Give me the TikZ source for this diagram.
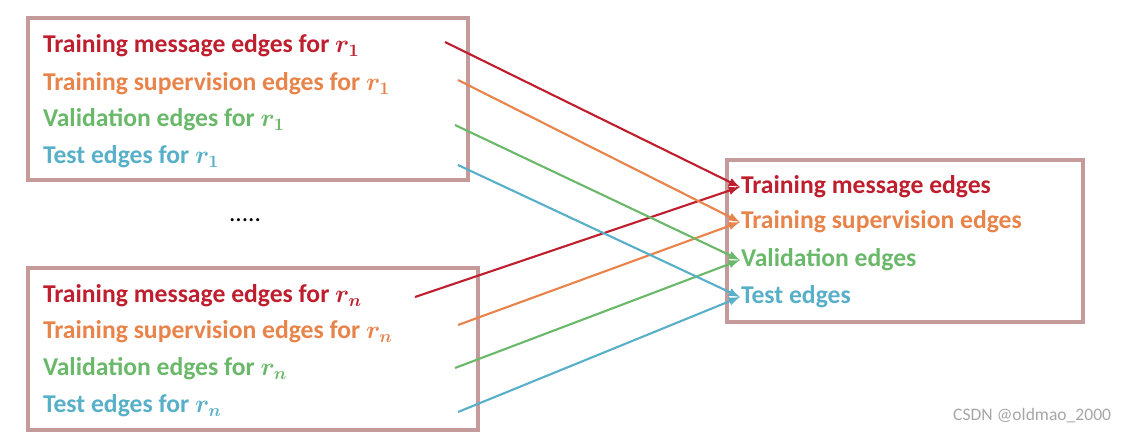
\documentclass[tikz,border=0pt]{standalone}
\usepackage{amsmath}
\usepackage{bm}
\usepackage{fontspec}
\setmainfont{Carlito}
\usepackage{xcolor}
\definecolor{BoxColor}{HTML}{C49A9A}
\definecolor{RedE}{HTML}{BE1E2D}
\definecolor{OrangeE}{HTML}{E8834A}
\definecolor{GreenE}{HTML}{6AB86A}
\definecolor{BlueE}{HTML}{58B0C8}
\tikzstyle{lbl} = [anchor=west, inner sep=0pt, font=\fontsize{14.6}{16}\selectfont\bfseries]
\tikzstyle{box} = [draw=BoxColor, line width=2pt]
\tikzset{>=latex, every picture/.style={line width=1.2pt}}
\newcommand\rsub[1]{$\bm{r_{#1}}$}
\begin{document}
\begin{tikzpicture}[x=0.02cm, y=-0.02cm]
\useasboundingbox (0,0) rectangle (1123,437);
\draw[box] (28,18) rectangle (468,180);
\draw[box] (28,268) rectangle (478,430);
\draw[box] (727,160) rectangle (1083,322);
\node[lbl, RedE] (tm1) at (42,46) {Training message edges for \rsub{1}};
\node[lbl, OrangeE] (ts1) at (42,84) {Training supervision edges for \rsub{1}};
\node[lbl, GreenE] (v1) at (42,120) {Validation edges for \rsub{1}};
\node[lbl, BlueE] (te1) at (42,157) {Test edges for \rsub{1}};
\node[lbl, RedE] (tmn) at (42,296) {Training message edges for \rsub{n}};
\node[lbl, OrangeE] (tsn) at (42,332) {Training supervision edges for \rsub{n}};
\node[lbl, GreenE] (vn) at (42,369) {Validation edges for \rsub{n}};
\node[lbl, BlueE] (ten) at (42,406) {Test edges for \rsub{n}};
\node[lbl, RedE] (tm) at (740,187) {Training message edges};
\node[lbl, OrangeE] (ts) at (740,222) {Training supervision edges};
\node[lbl, GreenE] (v) at (740,260) {Validation edges};
\node[lbl, BlueE] (te) at (740,297) {Test edges};
\node (dots) at (245,220) {\Large .....};
\node[anchor=east, text=gray!70, font=\normalsize] (mark) at (1118,416) {CSDN @oldmao\_2000};
% start points of the edges
\coordinate (a1) at (445,42);
\coordinate (b1) at (458,80);
\coordinate (c1) at (455,125);
\coordinate (d1) at (458,165);
\coordinate (an) at (415,297);
\coordinate (bn) at (458,325);
\coordinate (cn) at (455,368);
\coordinate (dn) at (458,412);
\draw[->, RedE] (a1) -- (tm.west);
\draw[->, RedE] (an) -- (tm.west);
\draw[->, OrangeE] (b1) -- (ts.west);
\draw[->, OrangeE] (bn) -- (ts.west);
\draw[->, GreenE] (c1) -- (v.west);
\draw[->, GreenE] (cn) -- (v.west);
\draw[->, BlueE] (d1) -- (te.west);
\draw[->, BlueE] (dn) -- (te.west);
\end{tikzpicture}
\end{document}
